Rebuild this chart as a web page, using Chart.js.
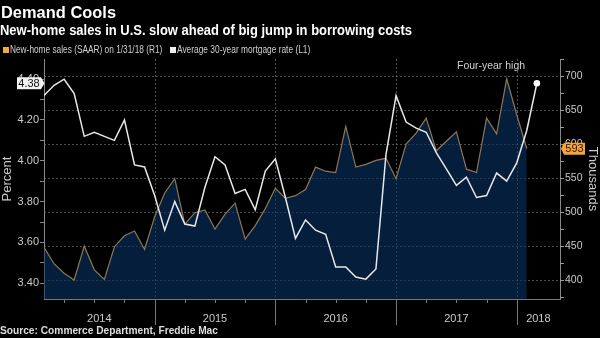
<!DOCTYPE html>
<html>
<head>
<meta charset="utf-8">
<script src="https://cdn.jsdelivr.net/npm/chart.js@4"></script>
<style>
html, body { margin: 0; padding: 0; background: #000; }
#wrap { position: relative; width: 600px; height: 338px; overflow: hidden; background: #000;
        font-family: "Liberation Sans", Arial, sans-serif; }
#wrap canvas { position: absolute; left: 0; top: 0; }
.t { position: absolute; white-space: nowrap; transform-origin: 0 0; line-height: 1; }
.sq { position: absolute; width: 6px; height: 6px; }
</style>
</head>
<body>
<div id="wrap">
  <canvas id="c" width="600" height="338"></canvas>
  <div class="t" id="title" data-w="115" style="left:1px;top:4.8px;font-size:16px;font-weight:bold;color:#fff;">Demand Cools</div>
  <div class="t" id="sub" data-w="412" style="left:0;top:22.5px;font-size:14px;font-weight:bold;color:#fff;">New-home sales in U.S. slow ahead of big jump in borrowing costs</div>
  <div class="sq" style="left:3px;top:47px;background:#f5a742;"></div>
  <div class="t" data-w="152" style="left:10px;top:44.5px;font-size:10px;color:#cfcfcf;">New-home sales (SAAR) on 1/31/18 (R1)</div>
  <div class="sq" style="left:170px;top:47px;background:#eee;"></div>
  <div class="t" data-w="133" style="left:177px;top:44.5px;font-size:10px;color:#cfcfcf;">Average 30-year mortgage rate (L1)</div>
  <div class="t" data-w="68" style="left:457px;top:60.5px;font-size:10px;color:#cfcfcf;">Four-year high</div>
  <div class="t" data-w="218" style="left:0;top:326px;font-size:10px;font-weight:bold;color:#ddd;">Source: Commerce Department, Freddie Mac</div>
</div>
<script>
// months, end-of-month points
var MONTHS = [
  "2014-01","2014-02","2014-03","2014-04","2014-05","2014-06","2014-07","2014-08","2014-09","2014-10","2014-11","2014-12",
  "2015-01","2015-02","2015-03","2015-04","2015-05","2015-06","2015-07","2015-08","2015-09","2015-10","2015-11","2015-12",
  "2016-01","2016-02","2016-03","2016-04","2016-05","2016-06","2016-07","2016-08","2016-09","2016-10","2016-11","2016-12",
  "2017-01","2017-02","2017-03","2017-04","2017-05","2017-06","2017-07","2017-08","2017-09","2017-10","2017-11","2017-12",
  "2018-01","2018-02"
];
var YEARS = ["2014", "2015", "2016", "2017", "2018"];

// new-home sales, thousands (SAAR), right axis
var SALES = [448, 424, 410, 400, 450, 415, 401, 449, 465, 472, 445, 493,
             528, 549, 482, 499, 503, 475, 497, 513, 460, 480, 505, 535,
             520, 524, 533, 566, 560, 558, 626, 566, 570, 576, 579, 549,
             600, 616, 638, 590, 604, 618, 563, 558, 638, 615, 696, 643,
             593];

// 30-year mortgage rate, percent, left axis
var MORTGAGE = [4.32, 4.37, 4.40, 4.33, 4.12, 4.14, 4.12, 4.10, 4.20, 3.98, 3.97, 3.83,
                3.66, 3.80, 3.69, 3.68, 3.87, 4.02, 3.98, 3.84, 3.86, 3.76, 3.95, 4.01,
                3.82, 3.62, 3.71, 3.66, 3.64, 3.48, 3.48, 3.43, 3.42, 3.47, 4.03, 4.32,
                4.19, 4.16, 4.14, 4.04, 3.96, 3.88, 3.92, 3.82, 3.83, 3.94, 3.90, 3.99,
                4.15, 4.38];

var LEFT_TICKS = [3.4, 3.5, 3.6, 3.7, 3.8, 3.9, 4.0, 4.1, 4.2, 4.3, 4.4];
var RIGHT_TICKS = [400, 450, 500, 550, 600, 650, 700];

var X_MIN = 0, X_MAX = 51.3;
var TICK_COL = '#c9c9c9';

// year boundaries sit on the December points
var yearEnds = [];
var quarterTicks = [];
MONTHS.forEach(function (m, i) {
    var mm = m.slice(5);
    if (mm === '12') yearEnds.push(i);
    if (mm === '03' || mm === '06' || mm === '09') quarterTicks.push(i);
});
var edges = [X_MIN].concat(yearEnds, [X_MAX]);
var yearCenters = [];
for (var k = 0; k < edges.length - 1; k++) yearCenters.push((edges[k] + edges[k + 1]) / 2);

var decor = {
    id: 'decor',
    beforeDatasetsDraw: function (chart) {
        var ctx = chart.ctx, a = chart.chartArea, x = chart.scales.x;
        ctx.save();
        ctx.strokeStyle = 'rgba(120,120,120,0.7)';
        ctx.lineWidth = 1;
        ctx.setLineDash([2, 2]);
        yearEnds.forEach(function (b) {
            var px = Math.round(x.getPixelForValue(b)) + 0.5;
            ctx.beginPath(); ctx.moveTo(px, a.top); ctx.lineTo(px, a.bottom); ctx.stroke();
        });
        ctx.restore();
    },
    afterDraw: function (chart) {
        var ctx = chart.ctx, a = chart.chartArea, x = chart.scales.x, yL = chart.scales.yL, yR = chart.scales.yR;
        ctx.save();
        ctx.strokeStyle = '#777';
        ctx.lineWidth = 1;
        // year separators below the axis
        yearEnds.forEach(function (b) {
            var px = Math.round(x.getPixelForValue(b)) + 0.5;
            ctx.beginPath(); ctx.moveTo(px, a.bottom); ctx.lineTo(px, a.bottom + 26); ctx.stroke();
        });
        // quarter ticks
        quarterTicks.forEach(function (q) {
            var px = Math.round(x.getPixelForValue(q)) + 0.5;
            ctx.beginPath(); ctx.moveTo(px, a.bottom); ctx.lineTo(px, a.bottom + 4); ctx.stroke();
        });
        // right axis tick marks, every 25
        ctx.strokeStyle = '#999';
        for (var v = Math.ceil(yR.min / 25) * 25; v <= yR.max; v += 25) {
            var py = Math.round(yR.getPixelForValue(v)) + 0.5;
            ctx.beginPath(); ctx.moveTo(a.right, py); ctx.lineTo(a.right + 4, py); ctx.stroke();
        }

        // last value tag on the left axis
        var lastM = MORTGAGE[MORTGAGE.length - 1];
        var py1 = yL.getPixelForValue(lastM);
        ctx.fillStyle = '#f2f2f2';
        ctx.beginPath();
        ctx.moveTo(17, py1 - 6); ctx.lineTo(41, py1 - 6); ctx.lineTo(44.5, py1);
        ctx.lineTo(41, py1 + 6); ctx.lineTo(17, py1 + 6); ctx.closePath(); ctx.fill();
        ctx.fillStyle = '#111';
        ctx.font = '11px "Liberation Sans", Arial, sans-serif';
        ctx.textAlign = 'center'; ctx.textBaseline = 'middle';
        ctx.fillText(lastM.toFixed(2), 29, py1 + 0.5);

        // last value tag on the right axis
        var lastS = SALES[SALES.length - 1];
        var py2 = yR.getPixelForValue(lastS);
        ctx.fillStyle = '#f5a33a';
        ctx.beginPath();
        ctx.moveTo(a.right + 1, py2); ctx.lineTo(a.right + 4, py2 - 6); ctx.lineTo(a.right + 25, py2 - 6);
        ctx.lineTo(a.right + 25, py2 + 6); ctx.lineTo(a.right + 4, py2 + 6); ctx.closePath(); ctx.fill();
        ctx.fillStyle = '#2a1a05';
        ctx.fillText(String(lastS), a.right + 14.5, py2 + 0.5);
        ctx.restore();
    }
};

var ctx = document.getElementById('c');
new Chart(ctx, {
    type: 'line',
    data: {
        datasets: [{
            label: 'Average 30-year mortgage rate (L1)',
            data: MORTGAGE.map(function (v, i) { return { x: i, y: v }; }),
            yAxisID: 'yL',
            borderColor: '#e8e8e8',
            borderWidth: 1.5,
            pointRadius: MORTGAGE.map(function (v, i) { return i === MORTGAGE.length - 1 ? 3.3 : 0; }),
            pointBackgroundColor: '#fff',
            pointBorderWidth: 0,
            fill: false,
            tension: 0
        },
        {
            label: 'New-home sales (SAAR) on 1/31/18 (R1)',
            data: SALES.map(function (v, i) { return { x: i, y: v }; }),
            yAxisID: 'yR',
            borderColor: '#8e7755',
            borderWidth: 1.2,
            backgroundColor: 'rgba(8,50,100,0.6)',
            fill: 'start',
            pointRadius: 0,
            tension: 0
        }]
    },
    options: {
        responsive: false,
        animation: false,
        layout: { padding: { top: 59, left: 0, right: 0, bottom: 0 } },
        plugins: { legend: { display: false }, tooltip: { enabled: false } },
        scales: {
            x: {
                type: 'linear', min: X_MIN, max: X_MAX,
                afterFit: function (s) { s.height = 39; },
                afterBuildTicks: function (s) { s.ticks = yearCenters.map(function (v) { return { value: v }; }); },
                ticks: {
                    autoSkip: false, maxRotation: 0, padding: 13, color: TICK_COL,
                    font: { size: 11, family: '"Liberation Sans", Arial, sans-serif' },
                    callback: function (v, i) { return YEARS[i]; }
                },
                grid: { display: false, drawTicks: false },
                border: { display: true, color: '#777' }
            },
            yL: {
                position: 'left', min: 3.3226, max: 4.499,
                afterFit: function (s) { s.width = 44; },
                afterBuildTicks: function (s) { s.ticks = LEFT_TICKS.map(function (v) { return { value: v }; }); },
                ticks: {
                    autoSkip: false, padding: 1, color: TICK_COL,
                    font: { size: 11, family: '"Liberation Sans", Arial, sans-serif' },
                    callback: function (v) { return Math.round(v * 10) % 2 === 0 ? v.toFixed(2) : ''; }
                },
                grid: { drawOnChartArea: false, drawTicks: true, tickLength: 4, color: '#888' },
                border: { color: '#888' },
                title: { display: true, text: 'Percent', color: TICK_COL, padding: { top: 0, bottom: 0 },
                         font: { size: 13, family: '"Liberation Sans", Arial, sans-serif' } }
            },
            yR: {
                position: 'right', min: 372.1, max: 725,
                afterFit: function (s) { s.width = 40; },
                afterBuildTicks: function (s) { s.ticks = RIGHT_TICKS.map(function (v) { return { value: v }; }); },
                ticks: {
                    autoSkip: false, padding: 5, color: TICK_COL,
                    font: { size: 10.5, family: '"Liberation Sans", Arial, sans-serif' }
                },
                grid: { drawOnChartArea: true, drawTicks: false, color: '#4c4c4c' },
                border: { color: '#888', dash: [2, 2] },
                title: { display: true, text: 'Thousands', color: TICK_COL, padding: { top: 0, bottom: 0 },
                         font: { size: 13, family: '"Liberation Sans", Arial, sans-serif' } }
            }
        }
    },
    plugins: [decor]
});

// squeeze text to the condensed widths of the original
document.querySelectorAll('.t[data-w]').forEach(function (el) {
    var w = parseFloat(el.getAttribute('data-w'));
    el.style.transform = 'scaleX(' + (w / el.offsetWidth) + ')';
});
</script>
</body>
</html>
